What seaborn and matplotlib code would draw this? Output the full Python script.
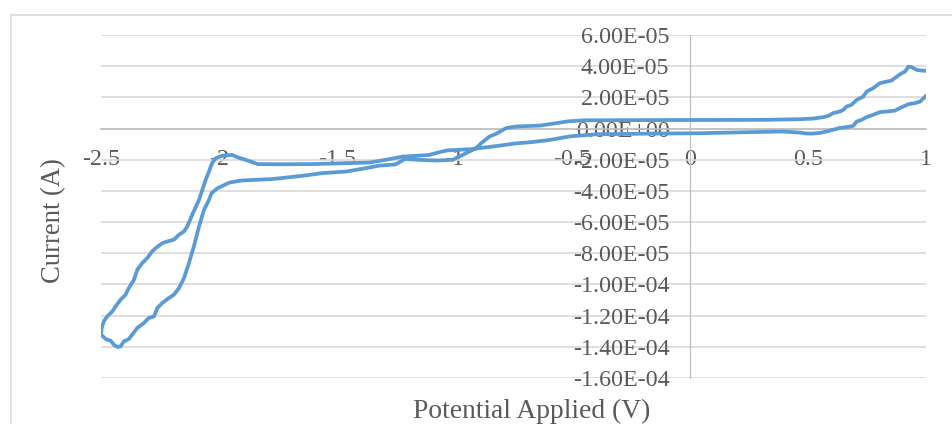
import numpy as np
import pandas as pd
import matplotlib
matplotlib.use("Agg")
import matplotlib.pyplot as plt
from matplotlib.lines import Line2D
import seaborn as sns

# Cyclic voltammogram: scan starts at +1 V, sweeps to -2.5 V and returns to +1 V
potential_v = [
    # cathodic sweep (+1 V -> -2.5 V)
    1.000, 0.975, 0.953, 0.925, 0.889, 0.868, 0.833, 0.804, 0.776, 0.748,
    0.727, 0.706, 0.691, 0.663, 0.635, 0.606, 0.578, 0.550, 0.521, 0.493,
    0.465, 0.393, 0.253, 0.111, 0.040, -0.200, -0.400, -0.510, -0.600, -0.680,
    -0.740, -0.810, -0.930, -1.030, -1.060, -1.110, -1.220, -1.290, -1.360, -1.461,
    -1.604, -1.744, -1.835, -1.886, -1.920, -1.944, -1.987, -2.013, -2.029, -2.042,
    -2.056, -2.084, -2.113, -2.134, -2.148, -2.169, -2.191, -2.219, -2.240, -2.268,
    -2.283, -2.304, -2.325, -2.346, -2.360, -2.382, -2.396, -2.417, -2.438, -2.452,
    -2.474, -2.488, -2.497, -2.500,
    # anodic sweep (-2.5 V -> +1 V)
    -2.480, -2.459, -2.445, -2.431, -2.417, -2.403, -2.382, -2.368, -2.346, -2.318,
    -2.297, -2.275, -2.261, -2.240, -2.212, -2.191, -2.169, -2.148, -2.127, -2.106,
    -2.084, -2.063, -2.042, -2.031, -2.005, -1.954, -1.902, -1.774, -1.644, -1.562,
    -1.461, -1.380, -1.320, -1.250, -1.210, -1.150, -1.079, -1.009, -0.951, -0.909,
    -0.887, -0.852, -0.824, -0.781, -0.739, -0.640, -0.580, -0.520, -0.450, 0.000,
    0.180, 0.323, 0.465, 0.521, 0.564, 0.585, 0.606, 0.635, 0.649, 0.663,
    0.684, 0.706, 0.734, 0.748, 0.776, 0.804, 0.833, 0.854, 0.876, 0.897,
    0.911, 0.925, 0.939, 0.961, 0.982, 1.000,
]

current_ua = [
    21.0, 17.3, 16.3, 15.6, 13.1, 11.5, 10.9, 10.5, 8.8, 7.3,
    5.6, 4.5, 1.7, 0.9, 0.4, -0.8, -1.9, -2.8, -3.2, -3.2,
    -2.6, -1.9, -2.3, -2.8, -3.0, -3.3, -3.7, -5.0, -7.4, -8.8,
    -9.5, -11.0, -13.2, -14.0, -15.0, -17.0, -18.0, -20.0, -21.8, -22.2,
    -22.8, -22.9, -22.8, -20.1, -18.5, -16.9, -17.5, -19.0, -22.2, -27.6,
    -32.9, -45.7, -55.3, -62.8, -66.0, -68.1, -71.3, -72.4, -73.5, -76.7,
    -78.8, -83.1, -86.3, -90.6, -97.0, -102.3, -106.6, -109.8, -114.1, -117.3,
    -120.5, -123.7, -127.9, -132.2,
    -135.0, -136.1, -138.7, -140.1, -139.7, -136.5, -135.0, -132.2, -127.9, -124.7,
    -121.5, -120.5, -115.1, -111.9, -108.7, -106.6, -102.3, -95.9, -86.3, -75.6,
    -62.8, -52.1, -45.8, -41.4, -38.2, -34.6, -33.3, -32.4, -30.3, -28.6,
    -27.6, -25.5, -23.8, -23.0, -19.5, -20.1, -20.5, -20.1, -15.8, -12.6,
    -9.4, -5.1, -3.4, 0.3, 1.3, 1.9, 3.2, 4.6, 5.3, 5.5,
    5.6, 5.6, 6.0, 6.4, 7.3, 8.1, 9.9, 10.9, 12.0, 14.1,
    15.2, 18.4, 20.5, 23.7, 25.9, 29.1, 30.1, 30.8, 33.3, 35.5,
    36.5, 39.7, 39.4, 37.6, 37.2, 37.0,
]

x_ticks = [-2.5, -2.0, -1.5, -1.0, -0.5, 0.0, 0.5, 1.0]
x_tick_labels = ["-2.5", "-2", "-1.5", "-1", "-0.5", "0", "0.5", "1"]
y_ticks = [6e-5, 4e-5, 2e-5, 0.0, -2e-5, -4e-5, -6e-5, -8e-5,
           -1e-4, -1.2e-4, -1.4e-4, -1.6e-4]
y_tick_labels = ["6.00E-05", "4.00E-05", "2.00E-05", "0.00E+00", "-2.00E-05",
                 "-4.00E-05", "-6.00E-05", "-8.00E-05", "-1.00E-04",
                 "-1.20E-04", "-1.40E-04", "-1.60E-04"]

df = pd.DataFrame({
    "Potential Applied (V)": potential_v,
    "Current (A)": np.array(current_ua) * 1e-6,
})

sns.set_theme(style="white")
plt.rcParams["font.family"] = ["Liberation Serif", "DejaVu Serif"]
plt.rcParams["axes.unicode_minus"] = False

text_color = "#595959"
W, H = 952, 424
fig = plt.figure(figsize=(W / 100, H / 100), dpi=100)
fig.patch.set_facecolor("white")

# chart-area border (top and left edges)
border_kw = dict(color="#d9d9d9", lw=1.2, transform=fig.transFigure)
fig.add_artist(Line2D([10.7 / W, 1.0], [1 - 14.7 / H, 1 - 14.7 / H], **border_kw))
fig.add_artist(Line2D([10.7 / W, 10.7 / W], [0.0, 1 - 14.7 / H], **border_kw))

ax = fig.add_axes([101 / W, 1 - 378 / H, 825 / W, 343 / H])
ax.set_facecolor("white")

sns.lineplot(data=df, x="Potential Applied (V)", y="Current (A)", sort=False,
             estimator=None, color="#5B9BD5", lw=2.7, ax=ax, zorder=3,
             solid_joinstyle="round", solid_capstyle="round")

ax.set_xlim(-2.5, 1.0)
ax.set_ylim(-1.6e-4, 6e-5)

ax.set_xticks(x_ticks)
ax.set_xticklabels(x_tick_labels)
ax.set_yticks(y_ticks)
ax.set_yticklabels(y_tick_labels)
ax.tick_params(axis="both", length=0, labelsize=17.3, labelcolor=text_color)
ax.tick_params(axis="x", pad=15)
ax.tick_params(axis="y", pad=15)

ax.yaxis.grid(True, color="#d9d9d9", lw=1.2)
ax.xaxis.grid(False)
ax.set_axisbelow(True)

for side in ("top", "right"):
    ax.spines[side].set_visible(False)
ax.spines["left"].set_position(("data", 0))
ax.spines["bottom"].set_position(("data", 0))
ax.spines["left"].set_color("#bfbfbf")
ax.spines["left"].set_linewidth(0.9)
ax.spines["bottom"].set_color("#bfbfbf")
ax.spines["bottom"].set_linewidth(1.2)
ax.spines["left"].set_zorder(1)
ax.spines["bottom"].set_zorder(1)

ax.set_xlabel("")
ax.set_ylabel("")
fig.text(531.7 / W, 1 - 418.3 / H, "Potential Applied (V)", ha="center",
         va="baseline", fontsize=19.8, color=text_color)
fig.text(54 / W, 1 - 221 / H, "Current (A)", rotation=90, ha="center",
         va="center", fontsize=19.2, color=text_color)

fig.savefig("out.png", dpi=100, facecolor="white")
